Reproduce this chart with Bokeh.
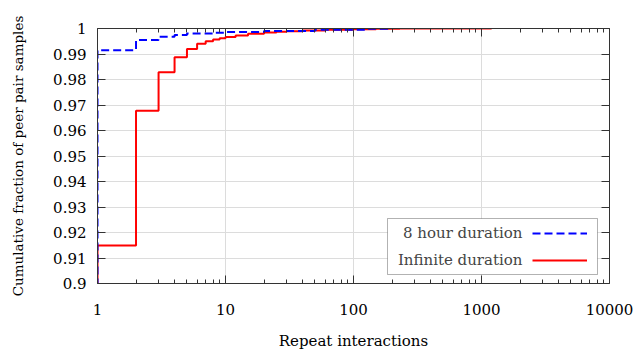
from bokeh.plotting import figure
from bokeh.models import (LogAxis, LinearAxis, FixedTicker, Range1d,
                          CustomJSTickFormatter, Legend, LegendItem, Label, BoxAnnotation)
from bokeh.embed import file_html
from bokeh.resources import INLINE

# ---- data ----
series_names = ["8 hour duration", "Infinite duration"]
hour8_x = [1, 2, 3, 4, 5, 8, 10, 20, 50, 130, 185]
hour8_y = [0.9915, 0.9955, 0.9968, 0.9975, 0.9980, 0.9983, 0.9986, 0.9990, 0.9995, 0.9999, 1.0]
inf_x = [1, 2, 3, 4, 5, 6, 7, 8, 9, 10, 12, 15, 20, 25, 30, 40, 60, 100, 150, 230, 1200]
inf_y = [0.9149, 0.9677, 0.9828, 0.9887, 0.9920, 0.9940, 0.9950, 0.9957, 0.9962, 0.9967,
         0.9973, 0.9979, 0.9984, 0.9987, 0.9989, 0.9992, 0.9995, 0.9997, 0.9999, 1.0, 1.0]
y_ticks = [0.9, 0.91, 0.92, 0.93, 0.94, 0.95, 0.96, 0.97, 0.98, 0.99, 1.0]
x_ticks = [1, 10, 100, 1000, 10000]
x_minor = [m * d for d in [1, 10, 100, 1000] for m in range(2, 10)]

FONT = "DejaVu Serif"
FS = "15px"
AX = "#333333"


def steps(xs, ys, start=0.0):
    sx, sy = [xs[0]], [start]
    prev = start
    for x, y in zip(xs, ys):
        sx += [x, x]
        sy += [prev, y]
        prev = y
    return sx[1:], sy[1:]


p = figure(width=640, height=356, x_axis_type="log", output_backend="svg",
           toolbar_location=None, x_axis_location=None, y_axis_location=None,
           frame_width=512, frame_height=255,
           min_border_left=97, min_border_right=31, min_border_top=28, min_border_bottom=73)
p.x_range = Range1d(1, 10000)
p.y_range = Range1d(0.9, 1.0)
p.outline_line_color = None

yfmt = CustomJSTickFormatter(code="return String(Math.round(tick*100)/100);")
xfmt = CustomJSTickFormatter(code="return String(Math.round(tick));")


def style(ax, labels=True):
    ax.axis_line_color = AX
    ax.major_tick_line_color = AX
    ax.minor_tick_line_color = AX
    ax.major_tick_in = 8
    ax.major_tick_out = 0
    ax.minor_tick_in = 4
    ax.minor_tick_out = 0
    ax.major_label_text_font = FONT
    ax.major_label_text_font_size = FS
    ax.major_label_text_color = "black"
    ax.axis_label_text_font = FONT
    ax.axis_label_text_font_size = FS
    ax.axis_label_text_font_style = "normal"
    ax.axis_label_text_color = "black"
    if not labels:
        ax.major_label_text_font_size = "0px"
        ax.major_label_text_alpha = 0


xb = LogAxis(ticker=FixedTicker(ticks=x_ticks, minor_ticks=x_minor), formatter=xfmt,
             axis_label="Repeat interactions")
style(xb)
xb.major_label_standoff = 20
xb.axis_label_standoff = 14
p.add_layout(xb, "below")

xt = LogAxis(ticker=FixedTicker(ticks=x_ticks, minor_ticks=x_minor))
style(xt, labels=False)
p.add_layout(xt, "above")

yl = LinearAxis(ticker=FixedTicker(ticks=y_ticks), formatter=yfmt,
                axis_label="Cumulative fraction of peer pair samples")
style(yl)
yl.axis_label_text_font_size = "13.5px"
yl.major_label_standoff = 11
yl.axis_label_standoff = 24
p.add_layout(yl, "left")

yr = LinearAxis(ticker=FixedTicker(ticks=y_ticks))
style(yr, labels=False)
p.add_layout(yr, "right")

p.xgrid.ticker = FixedTicker(ticks=x_ticks)
p.ygrid.ticker = FixedTicker(ticks=y_ticks)
p.xgrid.grid_line_color = "#dcdcdc"
p.ygrid.grid_line_color = "#dcdcdc"
p.xgrid.grid_line_width = 1
p.ygrid.grid_line_width = 1

ix, iy = steps(inf_x, inf_y)
bx, by = steps(hour8_x, hour8_y)
r_inf = p.line(ix, iy, line_color="#ff0000", line_width=2)
r_8 = p.line(bx, by, line_color="#0000ff", line_width=2, line_dash="8 4")

# legend: border box, right-aligned text, line samples on the right
p.add_layout(BoxAnnotation(left=290, right=500, top=65, bottom=9,
                           left_units="screen", right_units="screen",
                           top_units="screen", bottom_units="screen",
                           fill_color="white", fill_alpha=1,
                           line_color="black", line_width=1, level="overlay"))
leg = Legend(items=[LegendItem(label=series_names[0], renderers=[r_8]),
                    LegendItem(label=series_names[1], renderers=[r_inf])],
             location=(435, 13), margin=0, padding=0, spacing=7,
             glyph_width=55, glyph_height=20, label_height=20, label_width=0,
             label_standoff=0, label_text_alpha=0, label_text_font_size="1px",
             border_line_color=None, background_fill_alpha=0, level="overlay")
p.add_layout(leg, "center")
for i, name in enumerate(series_names):
    p.add_layout(Label(x=425, y=51 - 27 * i, x_units="screen", y_units="screen",
                       text=name, text_font=FONT, text_font_size=FS,
                       text_align="right", text_baseline="middle", level="overlay"))

open("out.html", "w").write(file_html(p, INLINE))
